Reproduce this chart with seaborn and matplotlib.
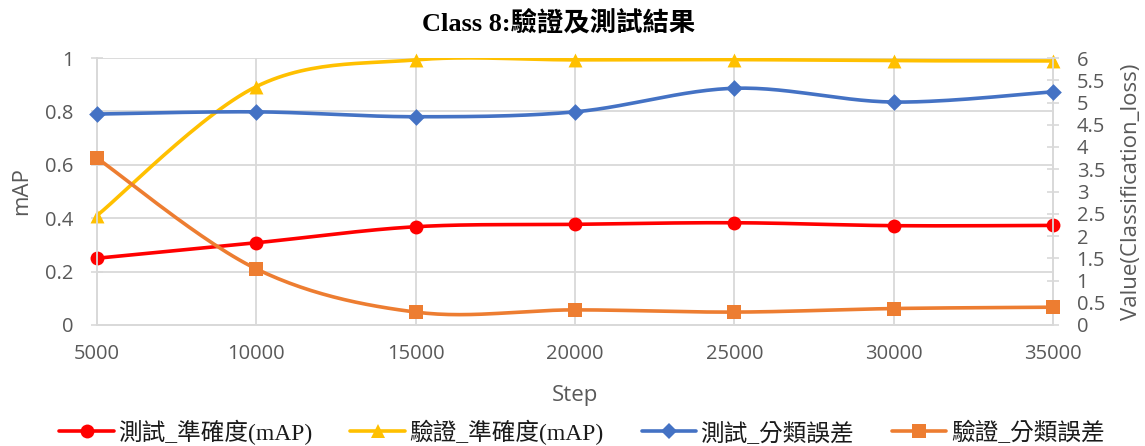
import numpy as np
import pandas as pd
import matplotlib
matplotlib.use("Agg")
import matplotlib.pyplot as plt
from matplotlib.lines import Line2D
from matplotlib.font_manager import FontProperties
import seaborn as sns

# Training steps and the four tracked series
steps = [5000, 10000, 15000, 20000, 25000, 30000, 35000]
test_map = [0.250, 0.308, 0.368, 0.377, 0.383, 0.372, 0.373]
val_map = [0.410, 0.893, 0.993, 0.993, 0.994, 0.990, 0.989]
test_loss = [4.74, 4.79, 4.68, 4.79, 5.32, 5.01, 5.24]
val_loss = [3.75, 1.26, 0.29, 0.34, 0.29, 0.37, 0.40]

labels = ["測試_準確度(mAP)", "驗證_準確度(mAP)", "測試_分類誤差", "驗證_分類誤差"]
colors = ["#FF0000", "#FFC000", "#4472C4", "#ED7D31"]
markers = ["o", "^", "D", "s"]
msizes = [10, 10, 8.5, 10]

sns.set_theme(style="white")
plt.rcParams["font.family"] = ["Open Sans", "Noto Sans CJK TC", "DejaVu Sans"]

TXT = "#595959"
GRID = "#D9D9D9"


def smooth(x, y, n=30):
    """Uniform Catmull-Rom curve through the points (Excel-style smoothed line)."""
    x = np.asarray(x, float)
    y = np.asarray(y, float)
    px = np.concatenate([[x[0]], x, [x[-1]]])
    py = np.concatenate([[y[0]], y, [y[-1]]])
    xs, ys = [], []
    t = np.linspace(0, 1, n)
    for i in range(1, len(px) - 2):
        for arr, out in ((px, xs), (py, ys)):
            p0, p1, p2, p3 = arr[i - 1], arr[i], arr[i + 1], arr[i + 2]
            b1 = p1 + (p2 - p0) / 6
            b2 = p2 - (p3 - p1) / 6
            out.append((1 - t) ** 3 * p1 + 3 * (1 - t) ** 2 * t * b1
                       + 3 * (1 - t) * t ** 2 * b2 + t ** 3 * p2)
    return np.concatenate(xs), np.concatenate(ys)


fig = plt.figure(figsize=(11.45, 4.46), dpi=100)
ax = fig.add_axes([97 / 1145, 1 - 325 / 446, (1053 - 97) / 1145, (325 - 58) / 446])
ax2 = ax.twinx()

series = [(ax, test_map), (ax, val_map), (ax2, test_loss), (ax2, val_loss)]
for (a, vals), lab, c, m, ms in zip(series, labels, colors, markers, msizes):
    sx, sy = smooth(steps, vals)
    curve = pd.DataFrame({"step": sx, "value": sy})
    sns.lineplot(data=curve, x="step", y="value", ax=a, color=c, lw=2.6,
                 sort=False, estimator=None, legend=False, zorder=3)
    pts = pd.DataFrame({"step": steps, "value": vals})
    sns.scatterplot(data=pts, x="step", y="value", ax=a, color=c, marker=m,
                    s=ms ** 2, linewidth=0, legend=False, zorder=4, clip_on=False)

# Left axis: mAP
ax.set_xlim(5000, 35000)
ax.set_ylim(0, 1)
ax.set_xticks(steps)
ax.set_yticks(np.arange(0, 1.01, 0.2))
ax.set_yticklabels(["0", "0.2", "0.4", "0.6", "0.8", "1"])
ax.grid(True, color=GRID, lw=1.3)
ax.set_axisbelow(True)
ax.set_xlabel("Step", color=TXT, fontsize=16)
ax.set_ylabel("mAP", color=TXT, fontsize=16)
ax.tick_params(axis="both", colors=TXT, labelsize=14.5, direction="inout",
               length=8, width=1.2, color=GRID)
ax.tick_params(axis="y", pad=13)
ax.tick_params(axis="x", pad=10)
ax.xaxis.set_label_coords(0.5, (325 - 396) / 267)
ax.xaxis.label.set_va("center")
ax.yaxis.set_label_coords((22 - 97) / 956, 0.5)
ax.yaxis.label.set_va("center")

# Right axis: classification loss
ax2.set_ylim(0, 6)
ax2.set_yticks(np.arange(0, 6.01, 0.5))
ax2.set_yticklabels([f"{v:g}" for v in np.arange(0, 6.01, 0.5)])
ax2.grid(False)
ax2.set_ylabel("Value(Classification_loss)", color=TXT, fontsize=16)
ax2.tick_params(axis="y", colors=TXT, labelsize=14.5, direction="inout",
                length=8, width=1.2, color=GRID, pad=13)
ax2.yaxis.set_label_coords((1131 - 97) / 956, 0.5)
ax2.yaxis.label.set_va("center")
ax2.set_xlabel("")

for a in (ax, ax2):
    a.spines["top"].set_visible(False)
    for side in ("left", "right", "bottom"):
        a.spines[side].set_color(GRID)
        a.spines[side].set_linewidth(1.3)

serif_cjk = ["Liberation Serif", "Noto Sans CJK TC", "DejaVu Sans"]
fig.text(559 / 1145, 1 - 24 / 446, "Class 8:驗證及測試結果", ha="center", va="center",
         fontsize=19, fontweight="bold", family=serif_cjk, color="black")

handles = [Line2D([0], [0], color=c, lw=2.6, marker=m, markersize=ms, markeredgewidth=0)
           for c, m, ms in zip(colors, markers, msizes)]
fig.legend(handles, labels, loc="center", bbox_to_anchor=(582 / 1145, 1 - 432 / 446), ncol=4,
           frameon=False, prop=FontProperties(family=serif_cjk, size=17),
           handlelength=2.3, handletextpad=0.2, columnspacing=1.6, labelcolor="#1a1a1a")

fig.savefig("out.png", dpi=100)
